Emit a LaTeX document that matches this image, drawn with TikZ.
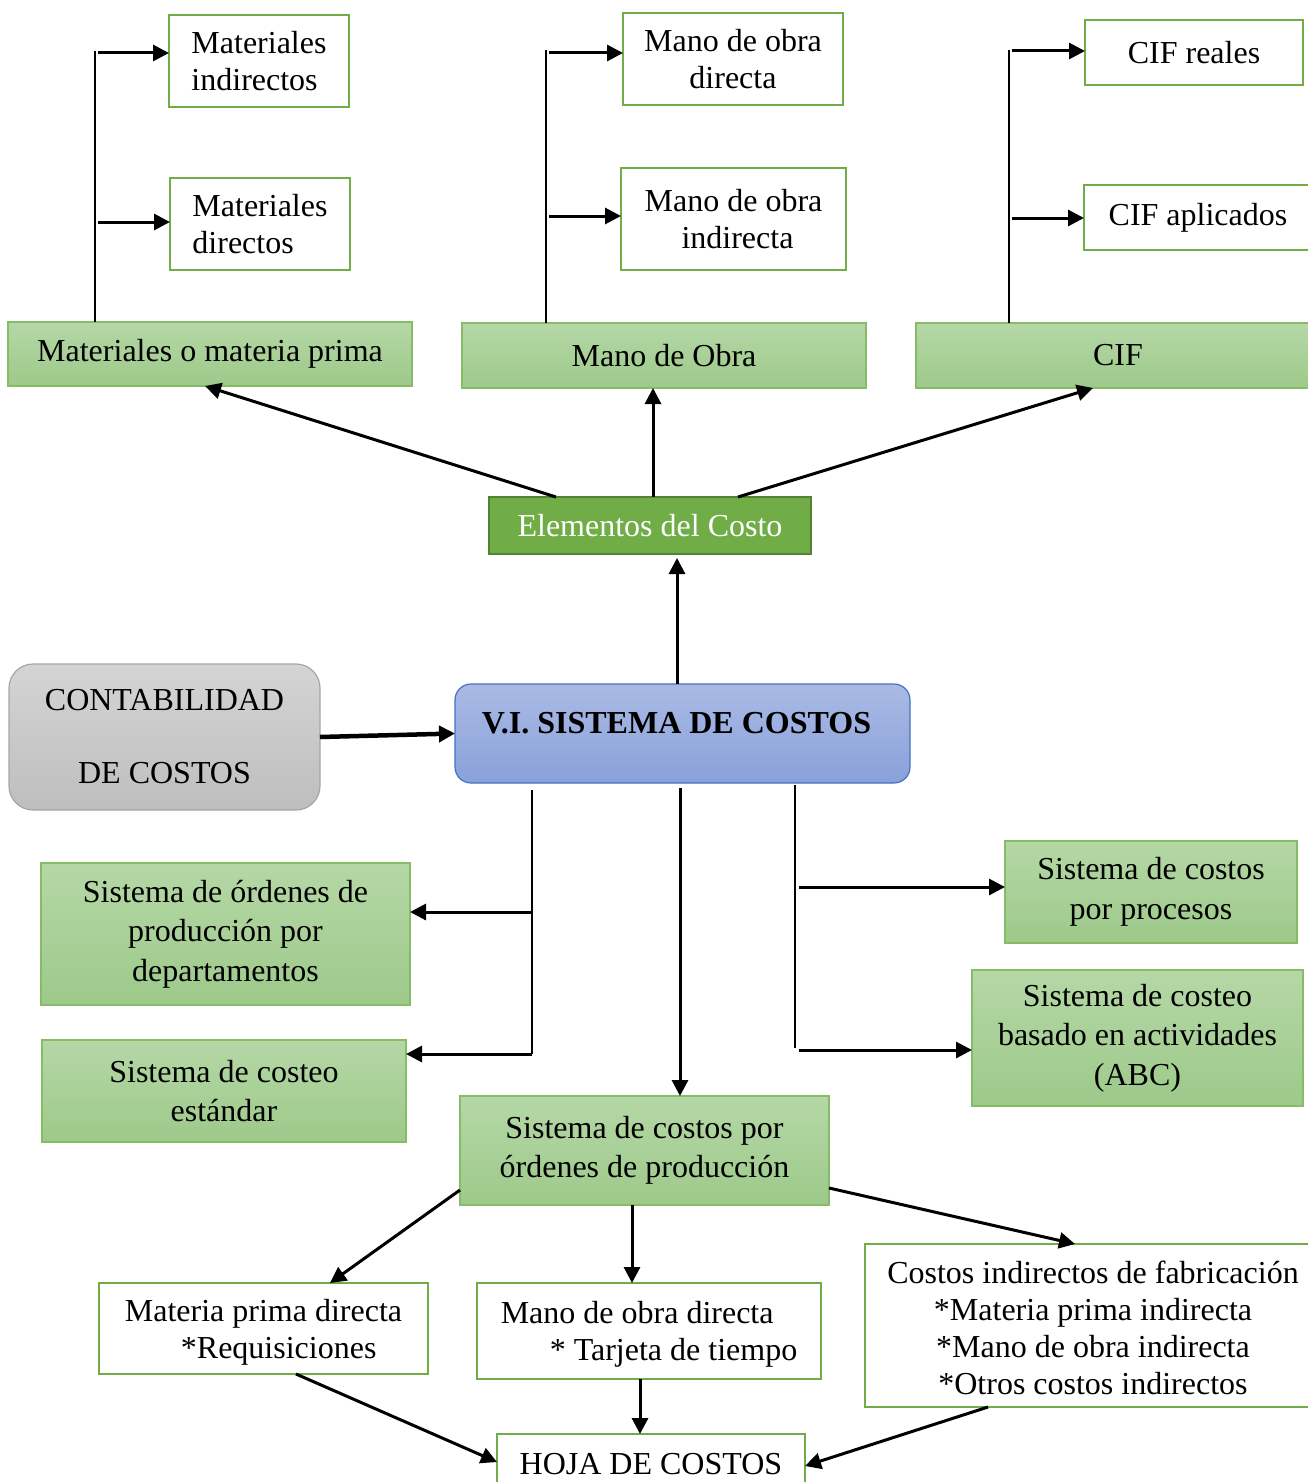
\documentclass[tikz,border=0pt]{standalone}
\usepackage{fontspec}
\setmainfont{Liberation Serif}
\usetikzlibrary{arrows.meta,calc}
\definecolor{gline}{HTML}{70AD47}
\definecolor{gline2}{HTML}{86BC68}
\definecolor{gtop}{HTML}{B5D8A6}
\definecolor{gbot}{HTML}{9DC98A}
\definecolor{gdark}{HTML}{548235}
\definecolor{graytop}{HTML}{D4D4D4}
\definecolor{graybot}{HTML}{BEBEBE}
\definecolor{grayline}{HTML}{A6A6A6}
\definecolor{bluetop}{HTML}{AABAE4}
\definecolor{bluebot}{HTML}{89A1DA}
\definecolor{blueline}{HTML}{4472C4}
\begin{document}
\begin{tikzpicture}[x=1pt,y=-1pt,
  txt/.style={font=\fontsize{32}{37}\selectfont},
  sz/.style 2 args={minimum width=#1pt, minimum height=#2pt},
  wbox/.style={draw=gline, line width=2.5pt, fill=white, inner sep=0pt, outer sep=0pt, align=center, txt},
  gbox/.style={draw=gline2, line width=1.5pt, top color=gtop, bottom color=gbot, inner sep=0pt, outer sep=0pt, align=center, font=\fontsize{32}{39.5}\selectfont},
  arr/.style={-{Triangle[length=16pt,width=16pt]}, line width=3pt},
  trunk/.style={line width=1.6pt}]
\useasboundingbox (0,0) rectangle (1308,1482);

% ---- cost elements and their parts
\node[wbox, sz={180}{92}, align=left] (mi) at (259,61) {Materiales\\indirectos};
\node[wbox, sz={180}{92}, align=left] (md) at (260,224) {Materiales\\directos};
\node[gbox, sz={404}{64}] (mp) at (210,354) {Materiales o materia prima};

\node[wbox, sz={220}{92}] (mod) at (733,59) {Mano de obra\\directa};
\node[wbox, sz={225}{102}] (moi) at (733.5,219) {Mano de obra\\\ indirecta};
\node[gbox, sz={404}{65}] (mo) at (664,355.5) {Mano de Obra};

\node[wbox, sz={218}{65}] (cr) at (1194,52.5) {CIF reales};
\node[wbox, sz={228}{65}] (ca) at (1198,217.5) {CIF aplicados};
\node[gbox, sz={404}{65}] (cif) at (1118,355.5) {CIF};

\node[draw=gdark, line width=2pt, fill=gline, inner sep=0pt, outer sep=0pt, sz={322}{57}, txt, text=white] (ec) at (650,525.5) {Elementos del Costo};

% ---- central system
\node[draw=grayline, line width=1.2pt, rounded corners=24pt, top color=graytop, bottom color=graybot, sz={311}{146}, inner sep=0pt, outer sep=0pt, align=center, txt] (cc) at (164.5,737) {CONTABILIDAD\\[36pt]DE COSTOS};
\node[draw=blueline, line width=1.2pt, rounded corners=16pt, top color=bluetop, bottom color=bluebot, sz={455}{99}, inner sep=0pt, outer sep=0pt] (vi) at (682.5,733.5) {};
\node[txt, font=\fontsize{32}{37}\selectfont\bfseries, inner sep=0pt] (vit) at (676.5,723) {V.I. SISTEMA DE COSTOS};

% ---- costing systems
\node[gbox, sz={369}{142}] (sod) at (225.5,934) {Sistema de órdenes de\\producción por\\departamentos};
\node[gbox, sz={364}{102}] (sce) at (224,1091) {Sistema de costeo\\estándar};
\node[gbox, sz={292}{102}] (scp) at (1151,892) {Sistema de costos\\por procesos};
\node[gbox, sz={331}{136}] (abc) at (1137.5,1038) {Sistema de costeo\\basado en actividades\\(ABC)};
\node[gbox, sz={369}{109}] (scop) at (644.5,1150.5) {Sistema de costos por\\órdenes de producción};

% ---- job order documents
\node[wbox, sz={329}{91}, align=left] (mpd) at (263.5,1328.5) {\rule{0pt}{30pt}Materia prima directa\\\hspace*{56pt}*Requisiciones};
\node[wbox, sz={344}{96}, align=left] (mdt) at (649,1331) {\rule{0pt}{28pt}Mano de obra directa\\\hspace*{49pt}* Tarjeta de tiempo};
\node[wbox, sz={456}{163}] (cif2) at (1093,1325.5) {\rule{0pt}{28pt}Costos indirectos de fabricación\\*Materia prima indirecta\\*Mano de obra indirecta\\*Otros costos indirectos};
\node[wbox, sz={308}{61}] (hoja) at (651,1464.5) {HOJA DE COSTOS};

% ---- branches above the elements
\coordinate (t1) at (95,51);
\coordinate (a1) at (98,53);
\coordinate (a2) at (98,222);
\draw[trunk] (mp.north -| t1) -- (t1);
\draw[arr] (a1) -- (a1 -| mi.west);
\draw[arr] (a2) -- (a2 -| md.west);

\coordinate (t2) at (546,50);
\coordinate (a3) at (549,53);
\coordinate (a4) at (549,216);
\draw[trunk] (mo.north -| t2) -- (t2);
\draw[arr] (a3) -- (a3 -| mod.west);
\draw[arr] (a4) -- (a4 -| moi.west);

\coordinate (t3) at (1009,50);
\coordinate (a5) at (1012,51);
\coordinate (a6) at (1012,218);
\draw[trunk] (cif.north -| t3) -- (t3);
\draw[arr] (a5) -- (a5 -| cr.west);
\draw[arr] (a6) -- (a6 -| ca.west);

% ---- elements of cost
\draw[arr] ([xshift=-94pt]ec.north) -- ([xshift=-5pt]mp.south);
\draw[arr] ([xshift=3pt]ec.north) -- ([xshift=3pt]ec.north |- mo.south);
\draw[arr] ([xshift=88pt]ec.north) -- ([xshift=-25pt]cif.south);
\draw[arr, shorten >=4pt] ([xshift=-5.5pt]vi.north) -- ([xshift=-5.5pt]vi.north |- ec.south);
\draw[-{Triangle[length=16pt,width=16pt]}, line width=4.5pt] (cc.east) -- (vi.west);

% ---- costing system branches
\coordinate (l0) at (532,790);
\coordinate (l1) at (532,1054);
\coordinate (l2) at (532,912);
\draw[trunk] (l0) -- (l1);
\draw[arr] (l2) -- (l2 -| sod.east);
\draw[arr] (l1) -- (l1 -| sce.east);

\coordinate (c0) at (680,788);
\draw[arr] (c0) -- (c0 |- scop.north);

\coordinate (r0) at (795,785);
\coordinate (r1) at (795,1048);
\coordinate (r2) at (799,887);
\coordinate (r3) at (799,1050);
\draw[trunk] (r0) -- (r1);
\draw[arr] (r2) -- (r2 -| scp.west);
\draw[arr] (r3) -- (r3 -| abc.west);

% ---- job order flow
\draw[arr] ([yshift=-39.5pt]scop.west) -- ([xshift=66.5pt]mpd.north);
\draw[arr] ([xshift=-12.5pt]scop.south) -- ([xshift=-12.5pt]scop.south |- mdt.north);
\draw[arr] ([yshift=-37.5pt]scop.east) -- ([xshift=-18pt]cif2.north);
\draw[arr] ([xshift=32.5pt]mpd.south) -- ([yshift=2.5pt]hoja.west);
\draw[arr] ([xshift=-9pt]mdt.south) -- ([xshift=-9pt]mdt.south |- hoja.north);
\draw[arr] ([xshift=-105pt]cif2.south) -- ([yshift=-1.5pt]hoja.east);
\end{tikzpicture}
\end{document}
